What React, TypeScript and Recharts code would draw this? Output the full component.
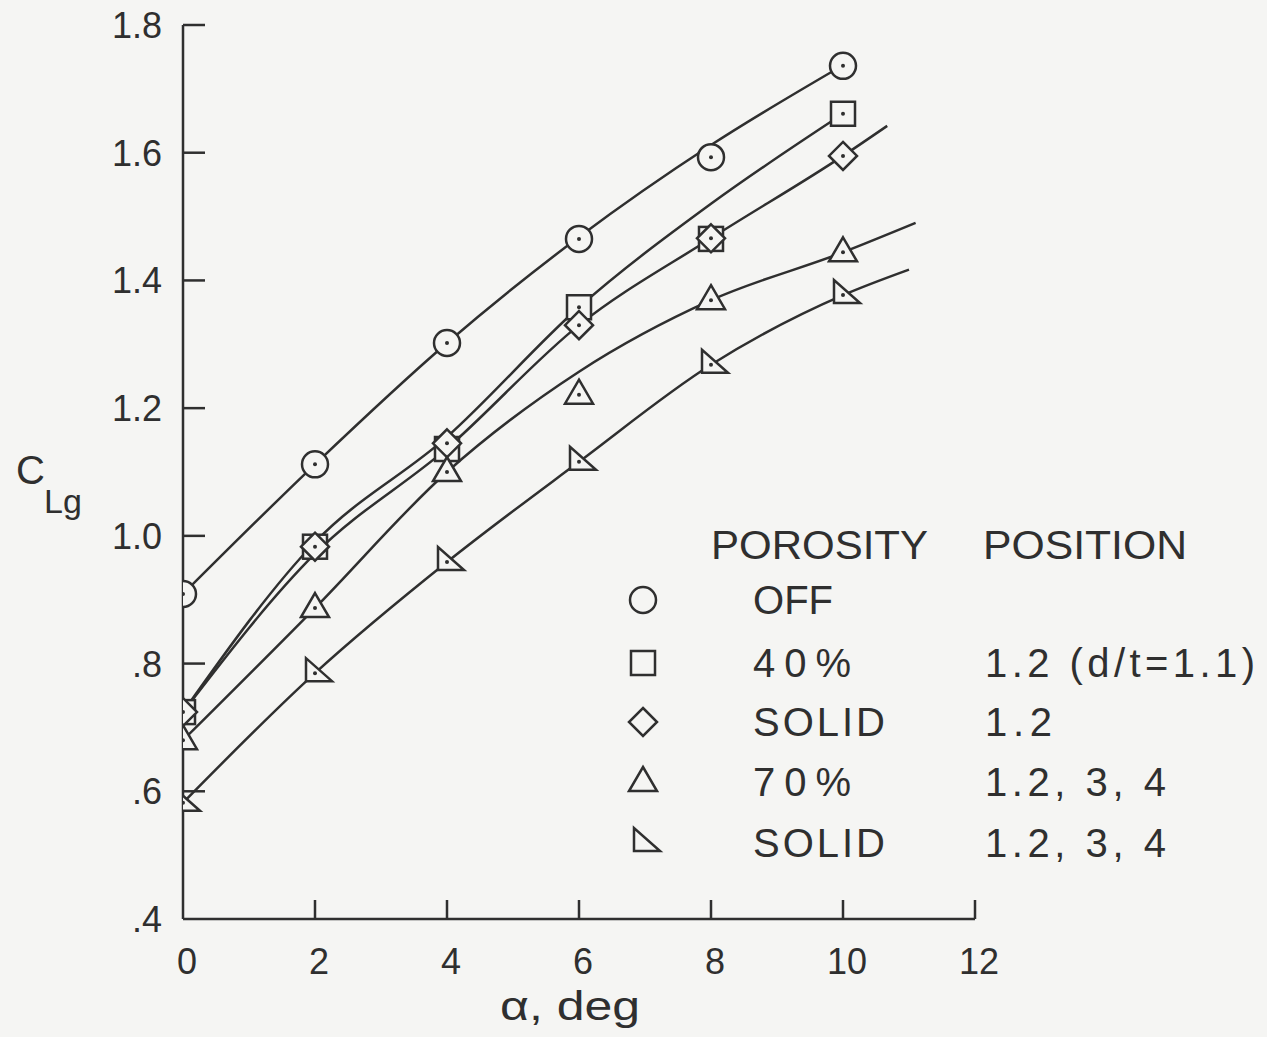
import { ComposedChart, Line, Scatter, XAxis, YAxis } from "recharts";

const BG = "#f5f5f3";
const INK = "#2f2f2f";

// measured points (alpha, CLg)
const alpha = [0, 2, 4, 6, 8, 10];
const offPts = [0.909, 1.112, 1.302, 1.465, 1.593, 1.736];
const p40Pts = [0.724, 0.983, 1.136, 1.358, 1.465, 1.661];
const solid12Pts = [0.724, 0.983, 1.145, 1.33, 1.466, 1.595];
const p70Pts = [0.68, 0.887, 1.1, 1.221, 1.369, 1.444];
const solid1234Pts = [0.582, 0.785, 0.959, 1.116, 1.268, 1.377];

// faired curves
const offCurveX = [0, 2, 4, 6, 8, 10];
const offCurve = [0.909, 1.112, 1.302, 1.468, 1.612, 1.737];
const p40CurveX = [0, 2, 4, 6, 8, 10];
const p40Curve = [0.724, 0.99, 1.155, 1.358, 1.52, 1.661];
const solid12CurveX = [0, 2, 4, 6, 8, 10, 10.67];
const solid12Curve = [0.724, 0.972, 1.137, 1.33, 1.466, 1.595, 1.642];
const p70CurveX = [0, 2, 4, 6, 8, 10, 11.1];
const p70Curve = [0.68, 0.887, 1.1, 1.257, 1.369, 1.444, 1.49];
const solid1234CurveX = [0, 2, 4, 6, 8, 10, 11];
const solid1234Curve = [0.582, 0.785, 0.959, 1.116, 1.268, 1.377, 1.417];

const xTicks = [0, 2, 4, 6, 8, 10, 12];
const yTicks = [0.4, 0.6, 0.8, 1.0, 1.2, 1.4, 1.6, 1.8];

const legendRows = [
  { kind: "circle", porosity: "OFF", position: "" },
  { kind: "square", porosity: "40%", position: "1.2 (d/t=1.1)" },
  { kind: "diamond", porosity: "SOLID", position: "1.2" },
  { kind: "triangle", porosity: "70%", position: "1.2, 3, 4" },
  { kind: "rtri", porosity: "SOLID", position: "1.2, 3, 4" },
];

const zip = (xs: number[], ys: number[]) => xs.map((x, i) => ({ x, y: ys[i] }));

function Marker({ kind, cx, cy, dot }: { kind: string; cx: number; cy: number; dot?: boolean }) {
  const common = { fill: BG, stroke: INK, strokeWidth: 2.5 };
  let shape;
  if (kind === "circle") shape = <circle cx={cx} cy={cy} r={13} {...common} />;
  else if (kind === "square") shape = <rect x={cx - 12} y={cy - 12} width={24} height={24} {...common} />;
  else if (kind === "diamond")
    shape = <polygon points={`${cx},${cy - 14} ${cx + 14},${cy} ${cx},${cy + 14} ${cx - 14},${cy}`} {...common} />;
  else if (kind === "triangle")
    shape = <polygon points={`${cx},${cy - 15} ${cx + 14},${cy + 9} ${cx - 14},${cy + 9}`} {...common} />;
  else
    shape = <polygon points={`${cx - 9},${cy - 15} ${cx - 9},${cy + 8} ${cx + 17},${cy + 8}`} {...common} />;
  return (
    <g>
      {shape}
      {dot && <circle cx={cx} cy={cy} r={2} fill={INK} />}
    </g>
  );
}

const XTick = (props: any) => {
  const { x, y, payload } = props;
  const v = payload.value;
  return (
    <g>
      {v !== 0 && <line x1={x} x2={x} y1={y} y2={y - 19} stroke={INK} strokeWidth={2.5} />}
      <text x={x + 4} y={y + 55} textAnchor="middle" fontSize={36} fill={INK} fontFamily="Liberation Sans">
        {v}
      </text>
    </g>
  );
};

const YTick = (props: any) => {
  const { x, y, payload } = props;
  const v = payload.value;
  const label = v >= 1 ? v.toFixed(1) : v.toFixed(1).slice(1);
  return (
    <g>
      {Math.abs(v - 0.4) > 1e-6 && <line x1={x} x2={x + 22} y1={y} y2={y} stroke={INK} strokeWidth={2.5} />}
      <text x={x - 21} y={y + 13} textAnchor="end" fontSize={36} fill={INK} fontFamily="Liberation Sans">
        {label}
      </text>
    </g>
  );
};

const series = [
  { kind: "circle", pts: offPts, cx: offCurveX, cy: offCurve },
  { kind: "square", pts: p40Pts, cx: p40CurveX, cy: p40Curve },
  { kind: "diamond", pts: solid12Pts, cx: solid12CurveX, cy: solid12Curve },
  { kind: "triangle", pts: p70Pts, cx: p70CurveX, cy: p70Curve },
  { kind: "rtri", pts: solid1234Pts, cx: solid1234CurveX, cy: solid1234Curve },
];

const rowY = [600, 663, 722, 782, 843];
const porosityLen = [80, 98, 132, 98, 132];
const positionLen = [0, 270, 67, 181, 181];

export default function App() {
  return (
    <div style={{ position: "relative", width: 1267, height: 1037, background: BG, overflow: "hidden" }}>
      <style>{`body{margin:0;background:${BG};}`}</style>
      <ComposedChart width={1267} height={1037} margin={{ top: 25, right: 292, left: 103, bottom: 58 }}>
        <XAxis
          dataKey="x"
          type="number"
          domain={[0, 12]}
          ticks={xTicks}
          height={60}
          tickSize={0}
          tickMargin={0}
          tick={<XTick />}
          axisLine={{ stroke: INK, strokeWidth: 2.5 }}
          tickLine={false}
          allowDataOverflow
        />
        <YAxis
          dataKey="y"
          type="number"
          domain={[0.4, 1.8]}
          ticks={yTicks}
          width={80}
          tickSize={0}
          tickMargin={0}
          tick={<YTick />}
          axisLine={{ stroke: INK, strokeWidth: 2.5 }}
          tickLine={false}
          allowDataOverflow
        />
        {series.map((s) => (
          <Line
            key={"l" + s.kind}
            data={zip(s.cx, s.cy)}
            dataKey="y"
            type="monotone"
            stroke={INK}
            strokeWidth={2.5}
            dot={false}
            activeDot={false}
            isAnimationActive={false}
          />
        ))}
        {series.map((s) => (
          <Scatter
            key={"s" + s.kind}
            data={zip(alpha, s.pts)}
            dataKey="y"
            isAnimationActive={false}
            shape={(p: any) => <Marker kind={s.kind} cx={p.cx} cy={p.cy} dot />}
          />
        ))}
      </ComposedChart>
      <svg
        width={1267}
        height={1037}
        style={{ position: "absolute", left: 0, top: 0, pointerEvents: "none" }}
        fontFamily="Liberation Sans"
        fill={INK}
      >
        <text x={16} y={484} fontSize={40}>
          C
        </text>
        <text x={44} y={513} fontSize={34}>
          Lg
        </text>
        <text x={500} y={1020} fontSize={40} textLength={140} lengthAdjust="spacingAndGlyphs">
          α, deg
        </text>
        <text x={711} y={559} fontSize={40} textLength={217} lengthAdjust="spacingAndGlyphs">
          POROSITY
        </text>
        <text x={983} y={559} fontSize={40} textLength={204} lengthAdjust="spacingAndGlyphs">
          POSITION
        </text>
        {legendRows.map((r, i) => (
          <g key={i}>
            <Marker kind={r.kind} cx={643} cy={rowY[i]} />
            <text x={753} y={rowY[i] + 14} fontSize={40} textLength={porosityLen[i]} lengthAdjust="spacing">
              {r.porosity}
            </text>
            {r.position && (
              <text x={985} y={rowY[i] + 14} fontSize={40} textLength={positionLen[i]} lengthAdjust="spacing">
                {r.position}
              </text>
            )}
          </g>
        ))}
      </svg>
    </div>
  );
}
